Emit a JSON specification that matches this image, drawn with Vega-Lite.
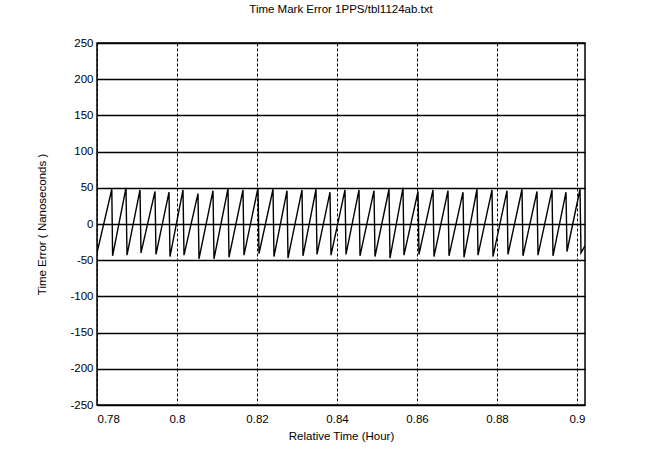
{
  "$schema": "https://vega.github.io/schema/vega-lite/v6.json",
  "width": 488,
  "height": 362,
  "autosize": "none",
  "padding": {"left": 97, "top": 43, "right": 67, "bottom": 48},
  "background": "white",
  "title": {
    "text": "Time Mark Error 1PPS/tbl1124ab.txt",
    "fontSize": 11.5,
    "fontWeight": "normal",
    "font": "Liberation Sans",
    "color": "black",
    "frame": "group",
    "anchor": "middle",
    "offset": 22
  },
  "data": {
    "values": [
      {"t": 0.78, "e": -40},
      {"t": 0.7837, "e": 48}, {"t": 0.7839, "e": -44},
      {"t": 0.78725, "e": 50}, {"t": 0.7875, "e": -43},
      {"t": 0.79075, "e": 47}, {"t": 0.791, "e": -40},
      {"t": 0.7945, "e": 45}, {"t": 0.79475, "e": -42},
      {"t": 0.798, "e": 44}, {"t": 0.79825, "e": -45},
      {"t": 0.8015, "e": 47}, {"t": 0.80175, "e": -43},
      {"t": 0.80525, "e": 42}, {"t": 0.8055, "e": -48},
      {"t": 0.809, "e": 46}, {"t": 0.80925, "e": -48},
      {"t": 0.81275, "e": 49}, {"t": 0.813, "e": -46},
      {"t": 0.8165, "e": 47}, {"t": 0.81675, "e": -43},
      {"t": 0.82025, "e": 50}, {"t": 0.8205, "e": -41},
      {"t": 0.824, "e": 48}, {"t": 0.82425, "e": -45},
      {"t": 0.8275, "e": 46}, {"t": 0.82775, "e": -47},
      {"t": 0.83125, "e": 47}, {"t": 0.8315, "e": -44},
      {"t": 0.83475, "e": 48}, {"t": 0.835, "e": -42},
      {"t": 0.83825, "e": 44}, {"t": 0.8385, "e": -43},
      {"t": 0.842, "e": 47}, {"t": 0.84225, "e": -42},
      {"t": 0.8455, "e": 47}, {"t": 0.84575, "e": -44},
      {"t": 0.84925, "e": 46}, {"t": 0.8495, "e": -45},
      {"t": 0.853, "e": 48}, {"t": 0.85325, "e": -47},
      {"t": 0.8565, "e": 50}, {"t": 0.85675, "e": -43},
      {"t": 0.86025, "e": 45}, {"t": 0.8605, "e": -42},
      {"t": 0.864, "e": 47}, {"t": 0.86425, "e": -45},
      {"t": 0.86775, "e": 46}, {"t": 0.868, "e": -44},
      {"t": 0.8715, "e": 44}, {"t": 0.87175, "e": -46},
      {"t": 0.875, "e": 48}, {"t": 0.87525, "e": -43},
      {"t": 0.87875, "e": 47}, {"t": 0.879, "e": -45},
      {"t": 0.8825, "e": 46}, {"t": 0.88275, "e": -42},
      {"t": 0.88625, "e": 48}, {"t": 0.8865, "e": -44},
      {"t": 0.89, "e": 45}, {"t": 0.89025, "e": -43},
      {"t": 0.89375, "e": 47}, {"t": 0.894, "e": -44},
      {"t": 0.89725, "e": 44}, {"t": 0.8975, "e": -38},
      {"t": 0.90075, "e": 48}, {"t": 0.901, "e": -40},
      {"t": 0.902, "e": -30}
    ]
  },
  "mark": {"type": "line", "color": "black", "strokeWidth": 1.4, "clip": true, "interpolate": "linear"},
  "encoding": {
    "x": {
      "field": "t",
      "type": "quantitative",
      "scale": {"domain": [0.78, 0.902], "nice": false, "zero": false},
      "axis": {
        "values": [0.78, 0.8, 0.82, 0.84, 0.86, 0.88, 0.9],
        "labelExpr": "toString(datum.value)",
        "title": "Relative Time (Hour)",
        "gridDash": [3, 2],
        "labelPadding": 8,
        "titlePadding": 6
      }
    },
    "y": {
      "field": "e",
      "type": "quantitative",
      "scale": {"domain": [-250, 250], "nice": false},
      "axis": {
        "values": [-250, -200, -150, -100, -50, 0, 50, 100, 150, 200, 250],
        "labelExpr": "toString(datum.value)",
        "title": "Time Error ( Nanoseconds )",
        "gridDash": [],
        "gridWidth": 1.3,
        "labelPadding": 4,
        "titlePadding": 22
      }
    }
  },
  "config": {
    "view": {"stroke": "black", "strokeWidth": 1.5},
    "axis": {
      "domain": false,
      "ticks": false,
      "grid": true,
      "gridColor": "black",
      "gridOpacity": 1,
      "gridWidth": 1,
      "labelFont": "Liberation Sans",
      "labelFontSize": 11.5,
      "labelColor": "black",
      "titleFont": "Liberation Sans",
      "titleFontSize": 11.5,
      "titleFontWeight": "normal",
      "titleColor": "black"
    }
  }
}
